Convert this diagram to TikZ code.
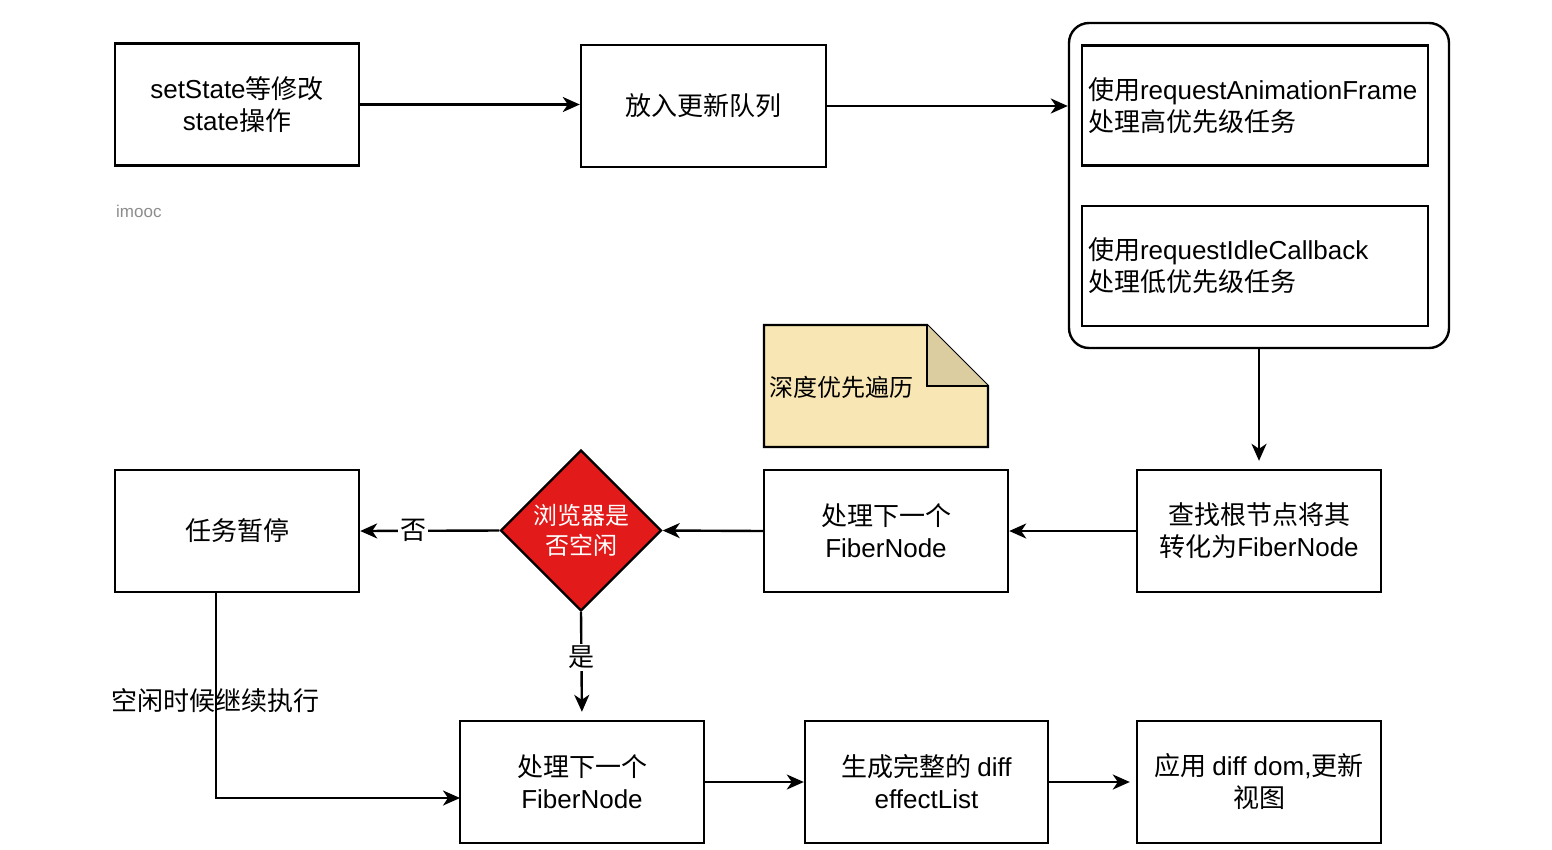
\documentclass[tikz,border=0pt]{standalone}
\usepackage{fontspec}
\setmainfont{Noto Sans CJK SC}
\newfontfamily\la{Liberation Sans}
\usetikzlibrary{shapes.geometric,arrows.meta}
\definecolor{notefill}{HTML}{F8E6B4}
\definecolor{foldfill}{HTML}{DCCDA0}
\definecolor{decred}{HTML}{E31A1A}
\tikzset{
  box/.style={draw=black, line width=2.4pt, fill=white, minimum width=244pt, minimum height=122pt, align=center, inner sep=4pt, font=\fontsize{26}{32}\selectfont},
  inbox/.style={draw=black, line width=2.4pt, fill=white, minimum width=346pt, minimum height=120pt, text width=334pt, inner xsep=6pt, align=left, font=\fontsize{26}{32}\selectfont},
  conn/.style={line width=2.4pt, -{Stealth[length=17pt, width=15pt, inset=5pt]}},
  lbl/.style={font=\fontsize{26}{32}\selectfont, inner sep=2pt},
}
\begin{document}
\begin{tikzpicture}[x=1pt,y=-1pt]
\useasboundingbox (0,0) rectangle (1552,849);
% top row
\node[box] (b1) at (237,104.5) {{\la setState}等修改\\{\la state}操作};
\node[box, minimum width=245pt] (b2) at (703.5,106) {放入更新队列};
\node[draw=black, line width=2.4pt, rounded corners=20pt, minimum width=380pt, minimum height=325pt, inner sep=0pt] (grp) at (1259,185.5) {};
\node[inbox] (ra) at (1255,105.5) {使用{\la requestAnimationFrame}\\处理高优先级任务};
\node[inbox] (ri) at (1255,266) {使用{\la requestIdleCallback}\\处理低优先级任务};
\node[text=black!45, font=\la\fontsize{17}{20}\selectfont, anchor=west, inner sep=0pt] (wm) at (116,211) {imooc};
% note
\filldraw[fill=notefill, draw=black, line width=2.4pt, line join=miter] (764,325) -- (927,325) -- (988,386) -- (988,447) -- (764,447) -- cycle;
\filldraw[fill=foldfill, draw=black, line width=2.4pt] (927,325) -- (927,386) -- (988,386);
\node[anchor=west, inner sep=0pt, font=\fontsize{24}{30}\selectfont] (note) at (769,387) {深度优先遍历};
% middle row
\node[box] (cz) at (1259,531) {查找根节点将其\\转化为{\la FiberNode}};
\node[box] (p1) at (886,531) {处理下一个\\{\la FiberNode}};
\node[diamond, aspect=1, draw=black, line width=2.4pt, fill=decred, text=white, minimum size=161pt, inner sep=0pt, align=center, font=\fontsize{24}{30}\selectfont] (dia) at (581,530.5) {浏览器是\\否空闲};
\node[box] (pause) at (237,531) {任务暂停};
% bottom row
\node[box] (p2) at (582,782) {处理下一个\\{\la FiberNode}};
\node[box, minimum width=243pt] (gen) at (926.5,782) {生成完整的 {\la diff}\\{\la effectList}};
\node[box] (app) at (1259,782) {应用 {\la diff dom,}更新\\视图};
% connectors
\draw[conn] (b1.east) -- (b1.east -| b2.west);
\draw[conn] (b2.east) -- (b2.east -| grp.west);
\draw[conn, shorten >=8pt] (grp.south) -- (cz.north);
\draw[conn] (cz.west) -- (p1.east);
\draw[conn] (p1.west) -- (dia.east);
\draw[conn] (dia.west) -- node[lbl, fill=white, pos=0.62] (no) {否} (pause.east);
\draw[conn, shorten >=8pt] (dia.south) -- node[lbl, fill=white, pos=0.42] (yes) {是} (p2.north);
\coordinate (pb) at (216,592);
\coordinate (pe) at (460,798);
\draw[conn] (pb) |- (pe);
\node[lbl, inner sep=0pt] (idle) at (215,701) {空闲时候继续执行};
\draw[conn] (p2.east) -- (gen.west);
\draw[conn, shorten >=6pt] (gen.east) -- (app.west);
\end{tikzpicture}
\end{document}
